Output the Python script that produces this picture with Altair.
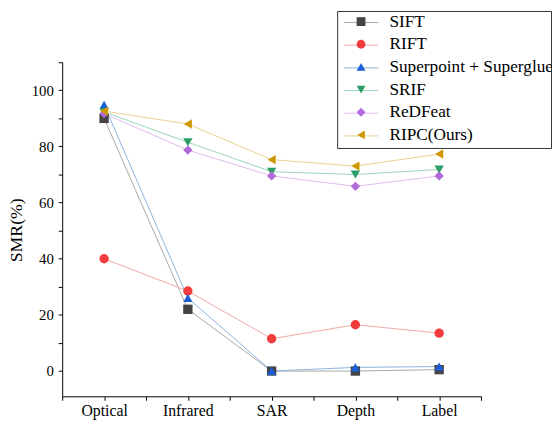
import json
import altair as alt
import pandas as pd

categories = ["Optical", "Infrared", "SAR", "Depth", "Label"]
methods = ["SIFT", "RIFT", "Superpoint + Superglue", "SRIF", "ReDFeat", "RIPC(Ours)"]
sift = [90.0, 22.0, 0.0, 0.0, 0.5]
rift = [40.0, 28.5, 11.5, 16.5, 13.5]
superpoint = [94.8, 26.0, 0.0, 1.3, 1.6]
srif = [92.3, 81.5, 71.0, 70.0, 71.8]
redfeat = [91.7, 78.7, 69.5, 65.8, 69.5]
ripc = [92.6, 88.0, 75.3, 73.0, 77.3]

marker_colors = ["#444444", "#f03c3c", "#1a5fd8", "#2a9e66", "#b06adc", "#d09800"]
line_colors = ["#a8a8a8", "#f0a8a8", "#8ab4dc", "#98d4b8", "#dcbcee", "#e8d090"]
shapes = ["square", "circle", "triangle-up", "triangle-down", "diamond", "triangle-left"]

series = [sift, rift, superpoint, srif, redfeat, ripc]
rows = []
for m, vals in zip(methods, series):
    for i, v in enumerate(vals):
        rows.append({"method": m, "pos": i + 1, "value": v})
df = pd.DataFrame(rows)

FONT = "Liberation Serif"

x_axis = alt.Axis(
    values=[0.5 + 0.5 * k for k in range(11)],
    labelExpr="datum.value % 1 === 0 ? " + json.dumps(categories) + "[datum.value - 1] : ''",
    title=None, grid=False, domainColor="black", tickColor="black",
    tickSize=4, labelPadding=2, labelFont=FONT, labelFontSize=16,
    labelColor="black", labelFlush=False, labelOverlap=False,
)
y_axis = alt.Axis(
    values=list(range(0, 111, 10)),
    labelExpr="datum.value % 20 === 0 && datum.value <= 100 ? datum.value : ''",
    title="SMR(%)", titleFont=FONT, titleFontSize=18, titleFontWeight="normal",
    titleColor="black", titleX=-41, titleY=170, titleBaseline="alphabetic",
    titleAlign="center", titleAngle=270,
    grid=False, domainColor="black", tickColor="black",
    tickSize=4, labelPadding=5, labelFont=FONT, labelFontSize=15,
    labelColor="black", labelOverlap=False,
)

x = alt.X("pos:Q", scale=alt.Scale(domain=[0.5, 5.5], nice=False, zero=False), axis=x_axis)
y = alt.Y("value:Q", scale=alt.Scale(domain=[-9, 110], nice=False, zero=False), axis=y_axis)

line_legend = alt.Legend(
    orient="none", legendX=279, legendY=-52, title=None,
    strokeColor="#333333", padding=3, fillColor="white",
    symbolType="M-1.143,0L6.857,0", symbolSize=76.6, symbolStrokeWidth=1,
    labelOpacity=0, labelFont=FONT, labelFontSize=17.5, labelOffset=27,
    labelLimit=400, rowPadding=4,
)
lines = alt.Chart(df).mark_line(strokeWidth=1).encode(
    x=x, y=y,
    color=alt.Color("method:N", scale=alt.Scale(domain=methods, range=line_colors), legend=line_legend),
)

pt_legend = alt.Legend(
    orient="none", legendX=294.5, legendY=-50, title=None,
    padding=0, symbolSize=80, symbolStrokeWidth=0,
    labelFont=FONT, labelFontSize=17.5, labelColor="black", labelOffset=20,
    labelLimit=400, rowPadding=4, symbolOpacity=1,
)
points = alt.Chart(df).mark_point(filled=True, size=90, opacity=1).encode(
    x=x, y=y,
    color=alt.Color("method:N", scale=alt.Scale(domain=methods, range=marker_colors), legend=pt_legend),
    shape=alt.Shape("method:N", scale=alt.Scale(domain=methods, range=shapes), legend=pt_legend),
)

chart = alt.layer(lines, points).resolve_scale(
    color="independent", shape="independent"
).resolve_legend(
    color="independent", shape="independent"
).properties(
    width=425, height=339,
    autosize=alt.AutoSizeParams(type="none"),
    padding={"left": 55, "top": 52, "right": 72, "bottom": 21},
    background="white",
).configure_view(stroke=None)

chart.save("out.html", embed_options={"renderer": "svg", "actions": False})
